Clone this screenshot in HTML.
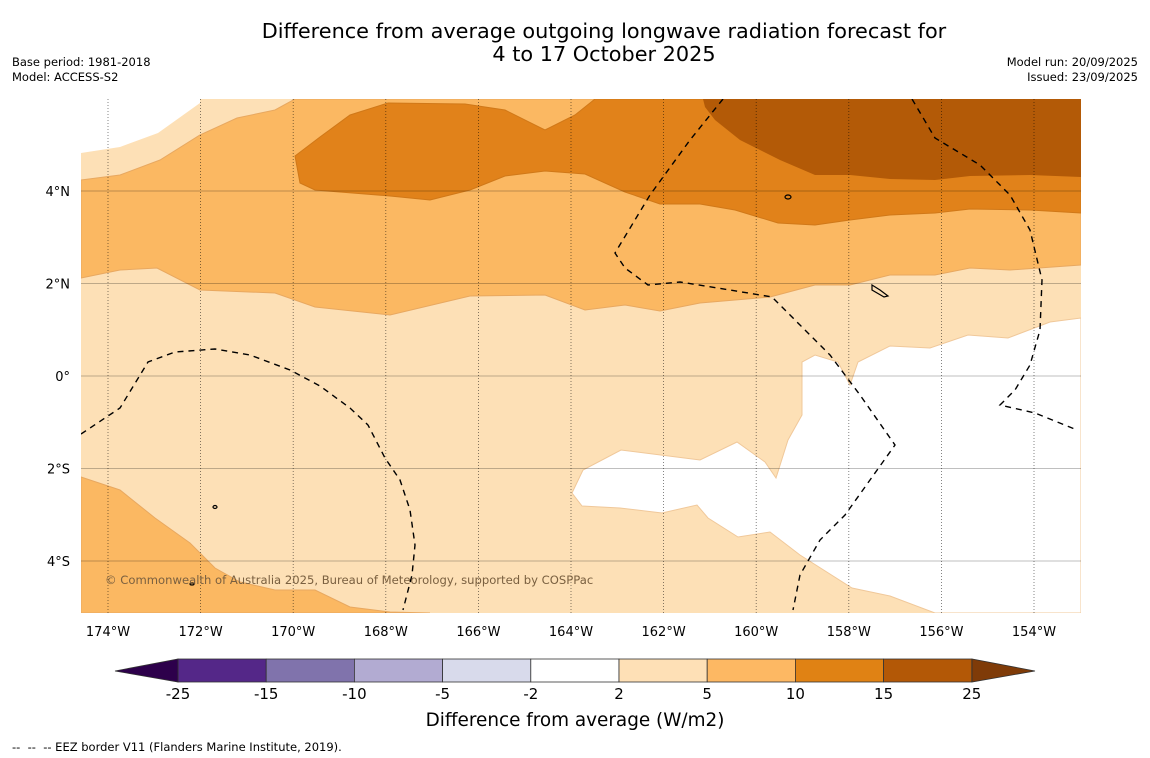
<!DOCTYPE html>
<html><head><meta charset="utf-8">
<style>
body{margin:0;background:#fff;width:1150px;height:758px;overflow:hidden;font-family:"Liberation Sans","DejaVu Sans",sans-serif;}
svg{position:absolute;left:0;top:0;}
text{font-family:"DejaVu Sans","Liberation Sans",sans-serif;}
</style></head>
<body>
<svg id="chart" width="1150" height="758">
<text x="604" y="38" font-size="20.8" text-anchor="middle">Difference from average outgoing longwave radiation forecast for</text>
<text x="604" y="61" font-size="20.8" text-anchor="middle">4 to 17 October 2025</text>
<text x="12" y="66" font-size="11.5">Base period: 1981-2018</text>
<text x="12" y="81" font-size="11.5">Model: ACCESS-S2</text>
<text x="1138" y="66" font-size="11.5" text-anchor="end">Model run: 20/09/2025</text>
<text x="1138" y="81" font-size="11.5" text-anchor="end">Issued: 23/09/2025</text>
<defs><clipPath id="mc"><rect x="81" y="99" width="1000" height="514"/></clipPath></defs>
<g clip-path="url(#mc)">
<rect x="81" y="99" width="1000" height="514" fill="#fde0b6"/>
<path d="M81,99 L200,99 L200,103 L158,133 L120,147 L81,153Z" fill="#fff"/>
<path d="M583,470 L621,450 L700,460 L737,442 L765,462 L776,478 L788,440 L802,415 L802,362 L815,355 L838,362 L850,385 L858,362 L890,346 L930,348 L968,335 L1008,338 L1050,322 L1081,318 L1081,613 L935,613 L890,596 L852,588 L800,555 L770,532 L738,537 L708,518 L697,505 L662,513 L620,508 L582,506 L572,493Z" fill="#fff" stroke="#f0c89a" stroke-width="1"/>
<path d="M81,278 L120,270 L157,268 L200,290 L275,293 L315,307 L390,315 L470,296 L545,295 L585,310 L625,305 L660,311 L700,303 L770,297 L815,285 L850,285 L890,275 L935,275 L970,268 L1010,270 L1081,265 L1081,99 L295,99 L275,110 L237,118 L200,135 L160,160 L120,175 L81,180Z" fill="#fbb862" stroke="#e8a860" stroke-width="1"/>
<path d="M81,477 L120,490 L155,518 L190,543 L215,568 L240,582 L275,590 L315,590 L350,607 L390,612 L430,613 L81,613Z" fill="#fbb862" stroke="#e8a860" stroke-width="1"/>
<path d="M295,156 L320,137 L350,115 L388,103 L465,104 L505,110 L545,130 L575,115 L595,99 L1081,99 L1081,213 L1030,210 L970,209 L935,213 L890,215 L850,220 L815,225 L778,223 L735,210 L700,204 L660,204 L625,192 L585,174 L545,171 L505,176 L470,190 L430,200 L390,196 L315,190 L300,183Z" fill="#e1821a" stroke="#d07818" stroke-width="1"/>
<path d="M703,99 L1081,99 L1081,177 L1030,175 L970,176 L935,180 L890,179 L850,175 L815,175 L780,160 L740,140 L715,120 L705,107Z" fill="#b35a07"/>
<g id="grid"></g>
<g fill="none" stroke="#000" stroke-width="1.4" stroke-dasharray="6,5">
<polyline points="81,434 120,408 148,362 175,352 215,349 250,355 290,370 320,386 350,408 368,425 385,458 400,480 410,510 415,545 412,575 403,610"/>
<polyline points="723,99 690,140 650,195 615,253 625,268 648,285 680,282 730,290 772,297 800,325 830,355 860,395 895,445 870,480 845,515 820,540 800,575 793,610"/>
<polyline points="912,99 935,138 980,165 1010,195 1030,230 1042,280 1040,330 1030,365 1015,390 1000,405 1035,413 1077,430"/>
</g>
<g fill="none" stroke="#000" stroke-width="1.2">
<ellipse cx="788" cy="197" rx="3" ry="2"/><path d="M872,285 L880,290 L888,296 L884,297 L872,290Z"/><ellipse cx="215" cy="507" rx="2" ry="1.5"/><ellipse cx="192" cy="584" rx="2" ry="1"/>
</g>
<text x="105" y="584" font-size="11.6" fill="#7a6040">© Commonwealth of Australia 2025, Bureau of Meteorology, supported by COSPPac</text>
</g>
<g id="axes"></g>
<g id="cbar"></g>
<text x="575" y="726" font-size="18.4" text-anchor="middle">Difference from average (W/m2)</text>
<text x="12" y="751" font-size="11.5" xml:space="preserve">--  --  -- EEZ border V11 (Flanders Marine Institute, 2019).</text>
</svg>
<script>
const lonTicks=[-174,-172,-170,-168,-166,-164,-162,-160,-158,-156,-154];
const lonLabels=["174°W","172°W","170°W","168°W","166°W","164°W","162°W","160°W","158°W","156°W","154°W"];
const latTicks=[4,2,0,-2,-4];
const latLabels=["4°N","2°N","0°","2°S","4°S"];
const levels=[-25,-15,-10,-5,-2,2,5,10,15,25];
const levelColors=["#542788","#8073ac","#b2abd2","#d8daeb","#ffffff","#fee0b6","#fdb863","#e08214","#b35806"];
const NS="http://www.w3.org/2000/svg";
const xS=lon=>108+(lon+174)*46.3;
const yS=lat=>376-lat*46.25;
function mk(t,a,p){const e=document.createElementNS(NS,t);for(const k in a)e.setAttribute(k,a[k]);p.appendChild(e);return e;}
const grid=document.getElementById('grid'),axes=document.getElementById('axes'),cb=document.getElementById('cbar');
latTicks.forEach((v,i)=>{const y=yS(v);
 const l=mk('line',{x1:81,x2:1081,y1:y,y2:y,stroke:'#000','stroke-opacity':0.25,'stroke-width':1},grid);
 
 
 const t=mk('text',{x:70,y:y+5,'font-size':13,'text-anchor':'end'},axes);t.textContent=latLabels[i];
 
 
});
lonTicks.forEach((v,i)=>{const x=xS(v);
 const l=mk('line',{x1:x,x2:x,y1:99,y2:613,stroke:'#000','stroke-opacity':0.6,'stroke-width':0.8,'stroke-dasharray':'1,2'},grid);
 
 
 const t=mk('text',{x:x,y:636,'font-size':13,'text-anchor':'middle'},axes);t.textContent=lonLabels[i];
 
 
});
const cx=v=>178+levels.indexOf(v)*88.2;
for(let i=0;i<levelColors.length;i++){
 const r=mk('rect',{x:cx(levels[i]),y:659,width:88.2,height:23,fill:levelColors[i],stroke:'#333','stroke-width':0.8},cb);
 
 
}
const lt=mk('polygon',{points:'178,659 178,682 115,671',fill:'#2d004b',stroke:'#333','stroke-width':0.8},cb);


const rt=mk('polygon',{points:'972,659 972,682 1035,671',fill:'#7f3b08',stroke:'#333','stroke-width':0.8},cb);


levels.forEach(v=>{const t=mk('text',{x:cx(v),y:699,'font-size':15,'text-anchor':'middle'},cb);t.textContent=v;
 
 
});
</script>
</body></html>
